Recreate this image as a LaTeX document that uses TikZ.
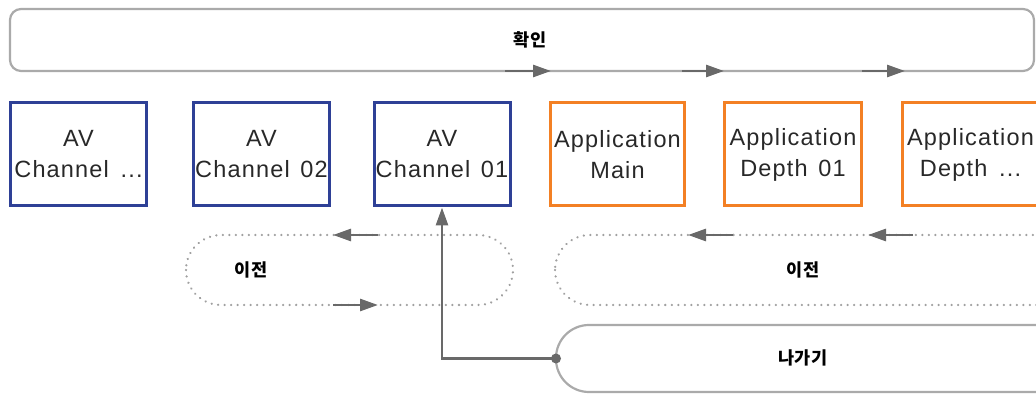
\documentclass[tikz,border=0pt]{standalone}
\usepackage{fontspec}
\usetikzlibrary{arrows.meta}
\newfontfamily\lat{Liberation Sans}[LetterSpace=5]
\newfontfamily\kr{Noto Sans CJK KR}
\definecolor{avblue}{RGB}{46,64,150}
\definecolor{apporange}{RGB}{243,128,36}
\definecolor{linegray}{RGB}{105,105,105}
\definecolor{bordergray}{RGB}{170,170,170}
\definecolor{dotgray}{RGB}{160,160,160}
\definecolor{txtgray}{RGB}{40,40,40}
\tikzset{
  chanbox/.style={draw=avblue, line width=3pt, minimum width=136pt, minimum height=103pt,
    align=center, inner sep=0pt, font=\lat\fontsize{23.5}{31}\selectfont, text=txtgray},
  appbox/.style={chanbox, draw=apporange},
  krlabel/.style={font=\kr\bfseries\fontsize{17.5}{19}\selectfont, text=black},
  flow/.style={draw=linegray, line width=2.8pt, -{Triangle[length=18pt,width=12pt]}},
  dotband/.style={draw=dotgray, line width=2.5pt, dash pattern=on 0.01pt off 6.5pt, line cap=round, rounded corners=35pt},
}
\begin{document}
\begin{tikzpicture}[x=1pt,y=-1pt]
\useasboundingbox (0,0) rectangle (1036,395);
% top box
\draw[draw=bordergray, line width=2.2pt, rounded corners=11pt] (10,9) rectangle (1034,71);
\node[krlabel] (confirm) at (530,40) {확인};
% arrows on top box bottom edge
\coordinate (t1a) at (505,71); \coordinate (t1b) at (551,71);
\coordinate (t2a) at (682,71); \coordinate (t2b) at (724,71);
\coordinate (t3a) at (862,71); \coordinate (t3b) at (905,71);
\draw[flow] (t1a) -- (t1b);
\draw[flow] (t2a) -- (t2b);
\draw[flow] (t3a) -- (t3b);
% boxes
\node[chanbox] (av3) at (78.5,154.5) {AV\\Channel\hspace{4pt} ...};
\node[chanbox] (av2) at (261.5,154.5) {AV\\Channel\hspace{3pt} 02};
\node[chanbox] (av1) at (442,154.5) {AV\\Channel\hspace{3pt} 01};
\node[appbox, minimum width=134pt] (appm) at (617.5,154.5) {Application\\Main};
\node[appbox, minimum width=137pt] (app1) at (793,154.5) {Application\\Depth\hspace{3pt} 01};
\node[appbox] (appn) at (970.5,154.5) {Application\\Depth\hspace{4pt} ...};
% dotted bands
\draw[dotband] (186,235) rectangle (513,305);
\node[krlabel] (prevL) at (251,270) {이전};
\draw[dotband] (555,235) rectangle (1070,305);
\node[krlabel] (prevR) at (803,270) {이전};
\coordinate (l1a) at (378,235); \coordinate (l1b) at (333,235);
\coordinate (l2a) at (333,305); \coordinate (l2b) at (378,305);
\draw[flow] (l1a) -- (l1b);
\draw[flow] (l2a) -- (l2b);
\coordinate (r1a) at (733,235); \coordinate (r1b) at (688,235);
\coordinate (r2a) at (913,235); \coordinate (r2b) at (868,235);
\draw[flow] (r1a) -- (r1b);
\draw[flow] (r2a) -- (r2b);
% exit
\draw[draw=bordergray, line width=2.2pt, rounded corners=33pt] (556,325) rectangle (1080,392);
\node[krlabel] (exit) at (803,358) {나가기};
\coordinate (dot) at (556,358.5);
\draw[flow] (dot) -| (av1.south);
\fill[linegray] (dot) circle (5pt);
\end{tikzpicture}
\end{document}
